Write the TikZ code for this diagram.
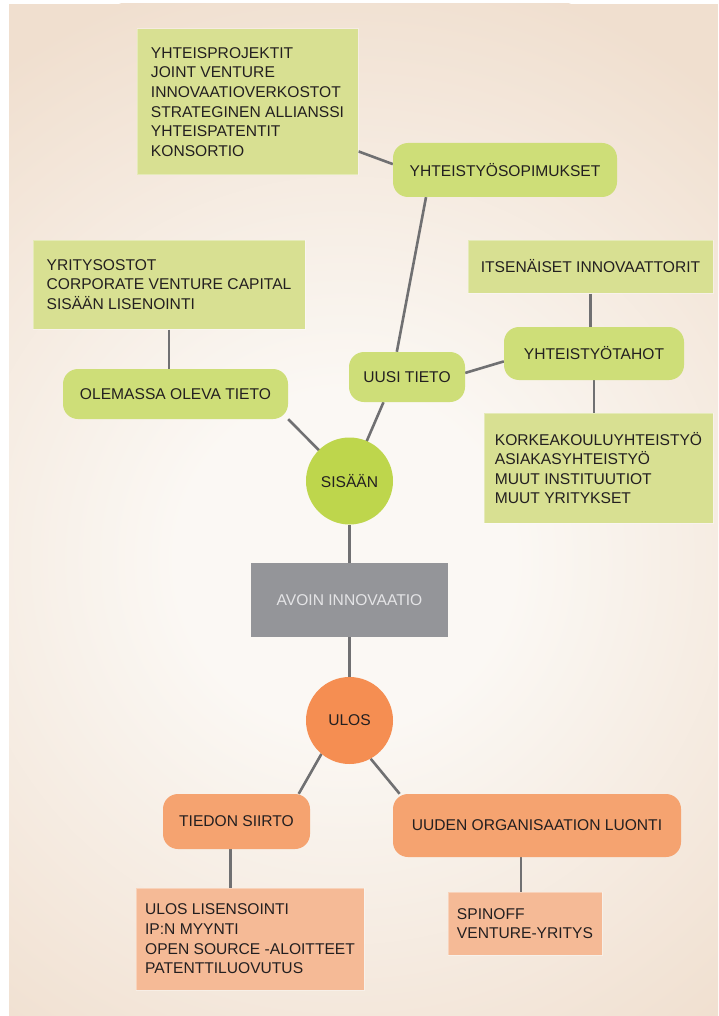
\documentclass[tikz,border=0pt]{standalone}
\usepackage{fontspec}
\setmainfont{Liberation Sans}
\definecolor{InGreen}{RGB}{190,214,76}
\definecolor{TopicGreen}{RGB}{206,222,120}
\definecolor{ListGreen}{RGB}{216,224,146}
\definecolor{OutOrange}{RGB}{245,142,82}
\definecolor{TopicOrange}{RGB}{245,163,112}
\definecolor{ListOrange}{RGB}{245,186,150}
\definecolor{CoreGray}{RGB}{148,149,153}
\definecolor{CoreText}{RGB}{228,228,230}
\definecolor{LinkGray}{RGB}{112,112,114}
\definecolor{TextDark}{RGB}{35,31,32}
\definecolor{BgPeach}{RGB}{240,223,207}
\definecolor{BgLight}{RGB}{251,248,244}
\usetikzlibrary{backgrounds}
\pgfdeclareradialshading{bgglow}{\pgfpoint{0bp}{0bp}}{color(0bp)=(BgLight); color(7bp)=(BgLight); color(25bp)=(BgPeach); color(50bp)=(BgPeach)}

\begin{document}
\begin{tikzpicture}[x=1pt, y=-1pt,
    every node/.style={font=\fontsize{15.6}{19.6}\selectfont, text=TextDark},
    link/.style={LinkGray, line width=2.6pt},
    hub/.style={circle, minimum size=87pt, inner sep=0pt},
    topic/.style={rectangle, rounded corners=15pt, inner sep=0pt},
    listbox/.style={rectangle, align=left, inner sep=0pt, draw=white, draw opacity=0.35, line width=1pt}]
  \useasboundingbox (0,0) rectangle (718,1016);
  \begin{scope}[on background layer]
    \fill[white] (0,0) rectangle (718,1016);
    \fill[BgPeach] (9,4) rectangle (718,1015);
    \clip (9,4) rectangle (718,1015);
    \shade[shading=bgglow] (345,560) circle (600pt);
  \end{scope}

  \node[fill=CoreGray, text=CoreText, minimum width=197pt, minimum height=74pt] (avoin) at (349.5,600) {AVOIN INNOVAATIO};
  \node[hub, fill=InGreen] (sisaan) at (349.5,481) {SISÄÄN};
  \node[hub, fill=OutOrange] (ulos) at (349.5,720.5) {ULOS};

  \node[topic, fill=TopicGreen, minimum width=225pt, minimum height=50pt] (olemassa) at (175.5,394) {OLEMASSA OLEVA TIETO};
  \node[topic, fill=TopicGreen, minimum width=116pt, minimum height=50pt] (uusi) at (407,377) {UUSI TIETO};
  \node[topic, fill=TopicGreen, minimum width=224pt, minimum height=54pt] (sopimukset) at (505,170) {YHTEISTYÖSOPIMUKSET};
  \node[topic, fill=TopicGreen, minimum width=180pt, minimum height=53pt] (tahot) at (594,353.5) {YHTEISTYÖTAHOT};
  \node[topic, fill=TopicOrange, minimum width=147pt, minimum height=55pt] (siirto) at (236.5,821.5) {TIEDON SIIRTO};
  \node[topic, fill=TopicOrange, minimum width=288pt, minimum height=63pt] (luonti) at (537,825.5) {UUDEN ORGANISAATION LUONTI};

  \node[listbox, fill=ListGreen, minimum width=221pt, minimum height=146pt] (projektit) at (247.5,102) {YHTEISPROJEKTIT\\JOINT VENTURE\\INNOVAATIOVERKOSTOT\\STRATEGINEN ALLIANSSI\\YHTEISPATENTIT\\KONSORTIO};
  \node[listbox, fill=ListGreen, minimum width=272pt, minimum height=89pt] (ostot) at (169,284.5) {YRITYSOSTOT\\CORPORATE VENTURE CAPITAL\\SISÄÄN LISENOINTI};
  \node[listbox, fill=ListGreen, minimum width=245pt, minimum height=53pt] (innovaattorit) at (590.5,266.5) {ITSENÄISET INNOVAATTORIT};
  \node[listbox, fill=ListGreen, minimum width=229pt, minimum height=110pt] (korkea) at (598.5,468) {KORKEAKOULUYHTEISTYÖ\\ASIAKASYHTEISTYÖ\\MUUT INSTITUUTIOT\\MUUT YRITYKSET};
  \node[listbox, fill=ListOrange, minimum width=228pt, minimum height=102pt] (lisensointi) at (250,939) {ULOS LISENSOINTI\\IP:N MYYNTI\\OPEN SOURCE -ALOITTEET\\PATENTTILUOVUTUS};
  \node[listbox, fill=ListOrange, minimum width=154pt, minimum height=63pt] (spinoff) at (525,923.5) {SPINOFF\\VENTURE-YRITYS};

  \begin{scope}[on background layer]
    \draw[link] (projektit.-24) -- (sopimukset.177);
    \draw[link] (sopimukset.199) -- (uusi.112);
    \draw[link] (uusi.4) -- (tahot.185);
    \draw[link] (uusi.227) -- (sisaan.center);
    \draw[link] (olemassa.south east) -- (sisaan.center);
    \draw[link] (ostot.south) -- (ostot.south |- olemassa.north);
    \draw[link] (innovaattorit.south) -- (innovaattorit.south |- tahot.north);
    \draw[link] (tahot.south) -- (tahot.south |- korkea.north);
    \draw[link] (sisaan) -- (avoin);
    \draw[link] (avoin) -- (ulos);
    \draw[link] (ulos.230) -- (siirto.24);
    \draw[link] (ulos.-61) -- (luonti.167);
    \draw[link] (siirto.258) -- (siirto.258 |- lisensointi.north);
    \draw[link] (spinoff.97) -- (spinoff.97 |- luonti.south);
  \end{scope}
\end{tikzpicture}
\end{document}
